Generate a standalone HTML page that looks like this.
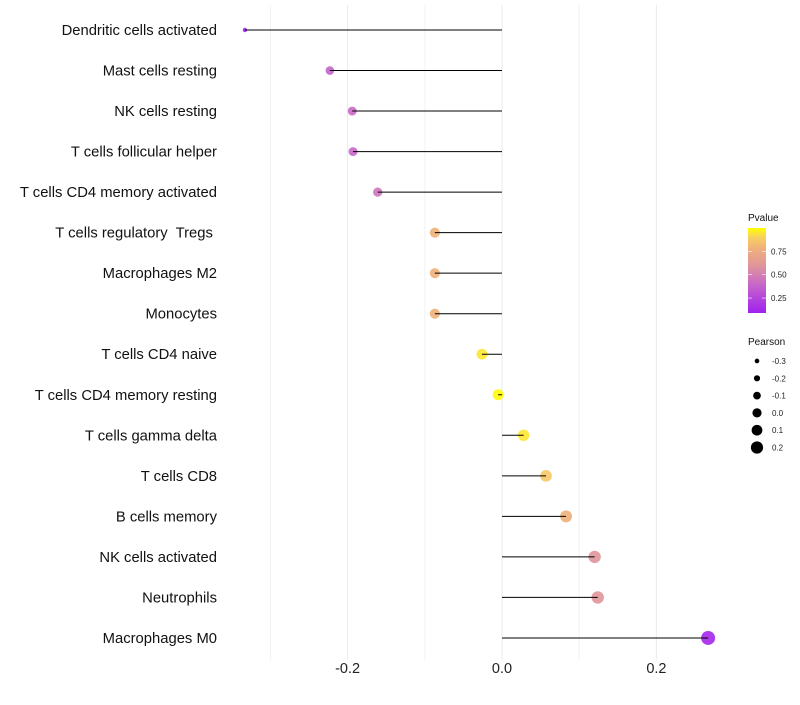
<!DOCTYPE html>
<html><head><meta charset="utf-8"><style>
body{margin:0;background:#fff;font-family:"Liberation Sans",sans-serif}
</style></head><body>
<svg id="chart" width="800" height="700" xmlns="http://www.w3.org/2000/svg"></svg>
<script>
const categories=["Dendritic cells activated","Mast cells resting","NK cells resting","T cells follicular helper","T cells CD4 memory activated","T cells regulatory  Tregs ","Macrophages M2","Monocytes","T cells CD4 naive","T cells CD4 memory resting","T cells gamma delta","T cells CD8","B cells memory","NK cells activated","Neutrophils","Macrophages M0"];
const pearson=[-0.333,-0.223,-0.194,-0.193,-0.161,-0.087,-0.087,-0.087,-0.026,-0.005,0.028,0.057,0.083,0.120,0.124,0.267];
const pvalues=[0.1,0.38,0.4,0.4,0.45,0.78,0.78,0.78,0.95,0.99,0.95,0.87,0.78,0.6,0.6,0.12];
const xTicks=[-0.2,0.0,0.2];
const xTickLabels=["-0.2","0.0","0.2"];
const minorTicks=[-0.3,-0.1,0.1];
const legendP=[0.75,0.5,0.25];
const legendSizes=[-0.3,-0.2,-0.1,0.0,0.1,0.2];

const NS="http://www.w3.org/2000/svg";
const svg=document.getElementById('chart');
function mk(t,a,p){const e=document.createElementNS(NS,t);for(const k in a)e.setAttribute(k,a[k]);(p||svg).appendChild(e);return e;}
const xs=v=>502+v*772;
const ys=i=>30+i*40.53;
const rs=v=>v<-0.3?2.2:Math.max(5.53+5.5*v,2);
const legR=v=>4.6+7.6*v;
const stops=[[0.09,[160,32,240]],[0.4,[200,104,200]],[0.6,[224,150,154]],[0.78,[240,176,122]],[0.9,[248,208,96]],[1.0,[255,255,0]]];
function col(p){p=Math.max(0.09,Math.min(1,p));for(let i=0;i<stops.length-1;i++){const[a,c1]=stops[i],[b,c2]=stops[i+1];if(p<=b){const t=(p-a)/(b-a);return 'rgb('+c1.map((c,j)=>Math.round(c+(c2[j]-c)*t)).join(',')+')';}}return 'rgb(255,255,0)';}

minorTicks.forEach(v=>{const l=mk('line',{x1:xs(v),x2:xs(v),y1:5,y2:660,stroke:'#f2f2f2','stroke-width':1});

});
xTicks.forEach((v,i)=>{const l=mk('line',{x1:xs(v),x2:xs(v),y1:5,y2:660,stroke:'#ebebeb','stroke-width':1});


const t=mk('text',{x:xs(v),y:673,'font-size':14.5,'text-anchor':'middle',fill:'#222'});t.textContent=xTickLabels[i];

});

categories.forEach((c,i)=>{
 const t=mk('text',{x:217,y:ys(i)+5,'font-size':14.8,'text-anchor':'end',fill:'#111','xml:space':'preserve'});t.style.whiteSpace='pre';t.textContent=c;
 
 
 const p=mk('circle',{cx:xs(pearson[i]),cy:ys(i),r:rs(pearson[i]),fill:col(pvalues[i]),'fill-opacity':0.9});
 
 
 const l=mk('line',{x1:xs(0),x2:xs(pearson[i]),y1:ys(i),y2:ys(i),stroke:'#000','stroke-width':1});
 
 
});

const g=mk('g',{});


const tt=mk('text',{x:748,y:221,'font-size':10,fill:'#111'},g);tt.textContent='Pvalue';
const defs=mk('defs',{},g);const lg=mk('linearGradient',{id:'grad',x1:0,y1:1,x2:0,y2:0},defs);
stops.forEach(s=>mk('stop',{offset:((s[0]-0.09)/0.91),'stop-color':col(s[0])},lg));
mk('rect',{x:748,y:228,width:18,height:85,fill:'url(#grad)'},g);
const py=p=>313-(p-0.09)/0.91*85;
legendP.forEach(p=>{mk('line',{x1:748,x2:752,y1:py(p),y2:py(p),stroke:'#fff','stroke-width':0.6},g);mk('line',{x1:762,x2:766,y1:py(p),y2:py(p),stroke:'#fff','stroke-width':0.6},g);
 const t=mk('text',{x:771,y:py(p)+3,'font-size':8,fill:'#222'},g);t.textContent=p.toFixed(2);});
const g2=mk('g',{});


const t2=mk('text',{x:748,y:345,'font-size':10,fill:'#111'},g2);t2.textContent='Pearson';
legendSizes.forEach((v,i)=>{const y=361+i*17.3;mk('circle',{cx:757,cy:y,r:legR(v),fill:'#000'},g2);
 const t=mk('text',{x:772,y:y+3,'font-size':8,fill:'#222'},g2);t.textContent=v.toFixed(1);});
</script>
</body></html>
